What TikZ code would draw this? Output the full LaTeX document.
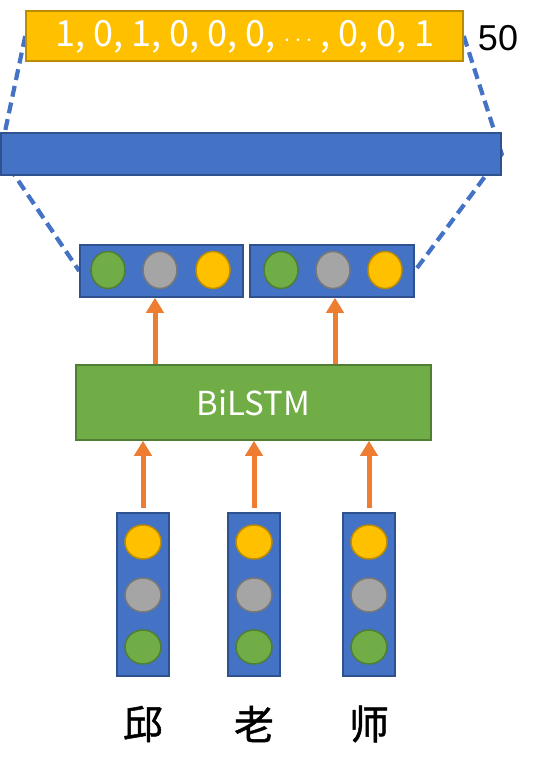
\documentclass[tikz,border=0pt]{standalone}
\usepackage{fontspec}
\setmainfont{Noto Sans CJK SC}
\newfontfamily\cjk[FakeBold=1.2]{Noto Sans CJK SC}
\newfontfamily\arialfont{Liberation Sans}
\usetikzlibrary{shapes.geometric,arrows.meta,backgrounds}
\definecolor{bluef}{HTML}{4472C4}
\definecolor{blued}{HTML}{2F528F}
\definecolor{yelf}{HTML}{FFC000}
\definecolor{yeld}{HTML}{BC8C00}
\definecolor{grnf}{HTML}{70AD47}
\definecolor{grnd}{HTML}{507E32}
\definecolor{gryf}{HTML}{A5A5A5}
\definecolor{gryd}{HTML}{787878}
\definecolor{orng}{HTML}{ED7D31}
\tikzset{
  bluebox/.style={draw=blued, fill=bluef, line width=1.5pt, rectangle, inner sep=0pt},
  dot/.style={ellipse, line width=1.5pt, inner sep=0pt},
  ydot/.style={dot, fill=yelf, draw=yeld},
  gdot/.style={dot, fill=grnf, draw=grnd},
  sdot/.style={dot, fill=gryf, draw=gryd},
  hdot/.style={minimum width=34pt, minimum height=37pt},
  vdot/.style={minimum width=36pt, minimum height=34pt},
  arr/.style={draw=orng, line width=5pt, -{Triangle[width=17pt,length=15pt]}},
  dline/.style={draw=bluef, line width=4.2pt, dash pattern=on 11pt off 6pt},
}
\begin{document}
\begin{tikzpicture}[x=1pt,y=-1pt]
\useasboundingbox (0,0) rectangle (541,768);
% top yellow vector
\node[rectangle, fill=yelf, draw=yeld, line width=1.5pt, minimum width=437pt, minimum height=50pt, inner sep=0pt] (ytop) at (244.5,36) {};
\node[text=white, font=\fontsize{36}{40}\selectfont] (ytext) at (245,37) {1, 0, 1, 0, 0, 0, $\cdots$ , 0, 0, 1};
\node[font=\arialfont\fontsize{36}{40}\selectfont] (fifty) at (498,38) {50};
% wide bar
\node[bluebox, minimum width=500pt, minimum height=42pt] (bar) at (251,154) {};
% small boxes
\node[bluebox, minimum width=163pt, minimum height=52pt] (b1) at (161.5,271) {};
\node[bluebox, minimum width=164pt, minimum height=52pt] (b2) at (332,271) {};
\node[gdot, hdot] (b1g) at (108,270) {};
\node[sdot, hdot] (b1s) at (160,270) {};
\node[ydot, hdot] (b1y) at (213,270) {};
\node[gdot, hdot] (b2g) at (281,270) {};
\node[sdot, hdot] (b2s) at (333,270) {};
\node[ydot, hdot] (b2y) at (385,270) {};
% BiLSTM
\node[rectangle, fill=grnf, draw=grnd, line width=1.5pt, minimum width=355pt, minimum height=75pt, inner sep=0pt, text=white, font=\fontsize{33}{36}\selectfont] (lstm) at (253.5,402.5) {BiLSTM};
% columns
\foreach \n/\x in {1/143,2/254,3/369}{
  \node[bluebox, minimum width=52pt, minimum height=163pt] (col\n) at (\x,594.5) {};
  \node[ydot, vdot] (col\n y) at (\x,542) {};
  \node[sdot, vdot] (col\n s) at (\x,595) {};
  \node[gdot, vdot] (col\n g) at (\x,647) {};
}
\node[font=\cjk\fontsize{40}{44}\selectfont] (w1) at (143,724) {邱};
\node[font=\cjk\fontsize{40}{44}\selectfont] (w2) at (254,724) {老};
\node[font=\cjk\fontsize{40}{44}\selectfont] (w3) at (369,724) {师};
% arrows
\coordinate (a1) at (155,0);
\coordinate (a2) at (335,0);
\draw[arr] (a1 |- lstm.north) -- (a1 |- b1.south);
\draw[arr] (a2 |- lstm.north) -- (a2 |- b2.south);
\foreach \n in {1,2,3}{
  \draw[arr] ([yshift=4pt]col\n.north) -- (col\n.north |- lstm.south);
}
% dashed projection lines
\begin{scope}[on background layer]
  \draw[dline] (ytop.west) -- (bar.west) -- (b1.west);
  \draw[dline] (ytop.east) -- (bar.east) -- (b2.east);
\end{scope}
\end{tikzpicture}
\end{document}
